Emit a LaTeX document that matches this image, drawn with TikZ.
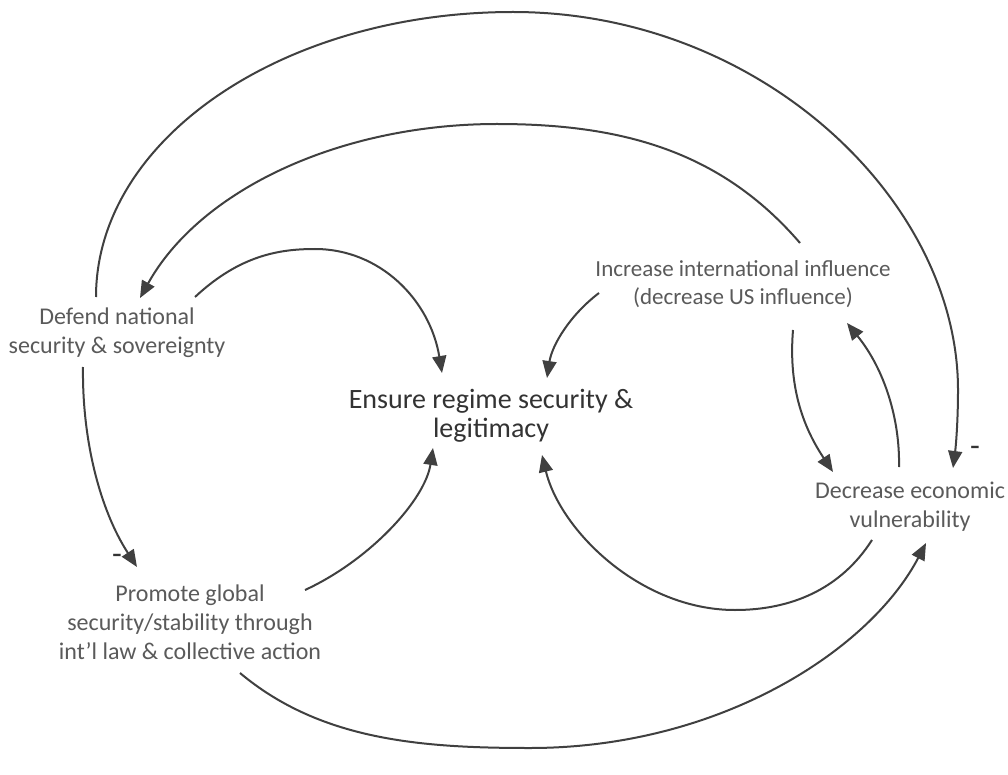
\documentclass[tikz,border=0pt]{standalone}
\usepackage{fontspec}
\setmainfont{Carlito}
\usetikzlibrary{arrows.meta}
\definecolor{linec}{HTML}{404040}
\definecolor{txtc}{HTML}{5a5a5a}
\definecolor{ttlc}{HTML}{333333}
\begin{document}
\begin{tikzpicture}[x=1pt,y=-1pt,
  lbl/.style={align=center, text=txtc, font=\fontsize{24}{29}\selectfont, inner sep=0pt},
  ttl/.style={align=center, text=ttlc, font=\fontsize{28}{29}\selectfont, inner sep=0pt},
  link/.style={draw=linec, line width=2pt, -{Triangle[length=17pt,width=14pt]}},
  sign/.style={text=ttlc, font=\fontsize{32}{32}\selectfont, inner sep=0pt}]
\useasboundingbox[fill=white] (0,0) rectangle (1008,775);
% nodes
\node[lbl] (def) at (117,333) {Defend national\\security \& sovereignty};
\node[ttl] (ens) at (491,416) {Ensure regime security \&\\legitimacy};
\node[lbl, font=\fontsize{23}{28}\selectfont] (inc) at (743,284) {Increase international influence\\(decrease US influence)};
\node[lbl] (dec) at (910,507) {Decrease economic\\vulnerability};
\node[lbl] (pro) at (190,622) {Promote global\\security/stability through\\int’l law \& collective action};
\node[sign] (m1) at (117,559) {-};
\node[sign] (m2) at (975,451) {-};
% outer arc: Defend -> Decrease
\draw[link] ([shift={(-21,-36)}]def.center) .. controls (96,139) and (283,12) .. (513,12)
  .. controls (760,12) and (958,200) .. (958,390)
  .. controls (958,420) and (956,445) .. ([shift={(43,-39)}]dec.center);
% second arc: Increase -> Defend
\draw[link] ([shift={(57,-41)}]inc.center) .. controls (720,150) and (620,124) .. (497,124)
  .. controls (340,124) and (200,190) .. ([shift={(23,-35)}]def.center);
% Defend -> Ensure
\draw[link] ([shift={(78,-36)}]def.center) .. controls (240,255) and (280,249) .. (315,249)
  .. controls (380,249) and (430,300) .. ([shift={(-49,-43)}]ens.center);
% Increase -> Ensure
\draw[link] ([shift={(-144,9)}]inc.center) .. controls (570,315) and (552,345) .. ([shift={(56,-38)}]ens.center);
% Promote -> Ensure
\draw[link] ([shift={(115,-32)}]pro.center) .. controls (370,560) and (425,500) .. ([shift={(-58,32)}]ens.center);
% Defend -> Promote
\draw[link] ([shift={(-34,34)}]def.center) .. controls (82,440) and (100,510) .. ([shift={(-53,-55)}]pro.center);
% Increase -> Decrease
\draw[link] ([shift={(50,46)}]inc.center) .. controls (788,390) and (805,430) .. ([shift={(-77,-35)}]dec.center);
% Decrease -> Increase
\draw[link] ([shift={(-11,-40)}]dec.center) .. controls (900,420) and (885,370) .. ([shift={(104,39)}]inc.center);
% Decrease -> Ensure
\draw[link] ([shift={(-38,33)}]dec.center) .. controls (840,590) and (790,610) .. (735,610)
  .. controls (640,610) and (560,530) .. ([shift={(51,39)}]ens.center);
% Promote -> Decrease
\draw[link] ([shift={(50,51)}]pro.center) .. controls (320,740) and (420,748) .. (530,748)
  .. controls (720,748) and (870,650) .. ([shift={(16,36)}]dec.center);
\end{tikzpicture}
\end{document}
